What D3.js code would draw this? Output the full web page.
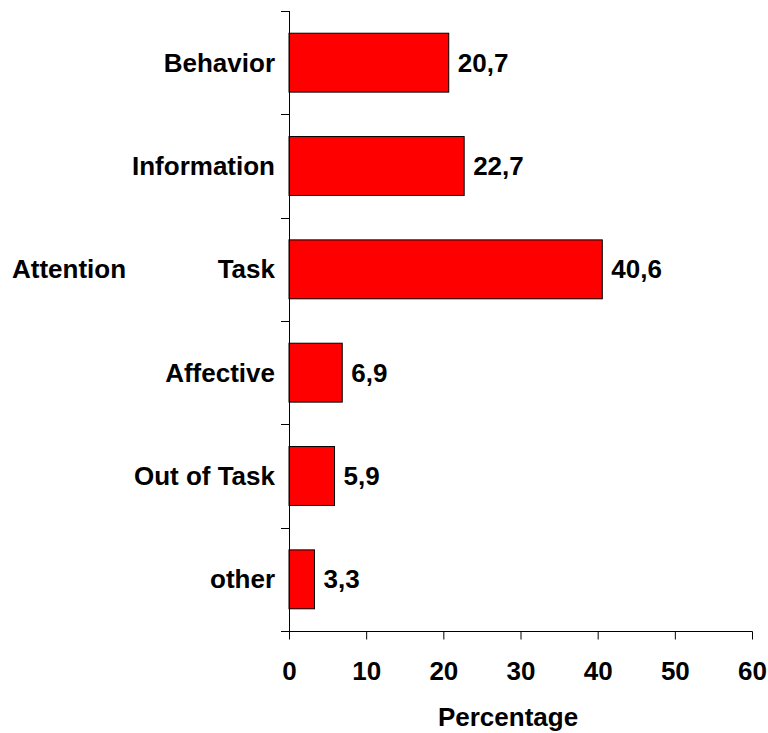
<!DOCTYPE html>
<html><head><meta charset="utf-8">
<script src="https://cdn.jsdelivr.net/npm/d3@7"></script>
<style>body{margin:0;background:#fff}svg{display:block}text{font-family:"Liberation Sans",Arial,sans-serif;font-weight:bold;fill:#000}</style>
</head><body>
<svg id="c" width="768" height="733"></svg>
<script>
const categories = ["Behavior","Information","Task","Affective","Out of Task","other"];
const values = [20.7, 22.7, 40.6, 6.9, 5.9, 3.3];
const valueLabels = ["20,7","22,7","40,6","6,9","5,9","3,3"];
const xTicks = [0,10,20,30,40,50,60];
const groupLabel = "Attention";
const xTitle = "Percentage";

(function(){
const svg = d3.select("#c");
const pl = 289, pr = 752, pt = 11, pb = 631;
const fs = 26;
const x = d3.scaleLinear().domain([0,60]).range([pl,pr]);
const y = d3.scaleBand().domain(categories).range([pt,pb]).paddingInner(0.43).paddingOuter(0.215);
const bandStep = (pb-pt)/categories.length;

// bars
svg.selectAll("rect.bar").data(values).join("rect")
  .attr("x", x(0)).attr("y",(d,i)=>y(categories[i]))
  .attr("width", d=>x(d)-x(0)).attr("height", y.bandwidth())
  .attr("fill","#ff0000").attr("stroke","#000").attr("stroke-width",1);

// y axis line and ticks at band boundaries
svg.append("line").attr("x1",pl+0.5).attr("x2",pl+0.5).attr("y1",pt).attr("y2",pb).attr("stroke","#000");
d3.range(categories.length+1).forEach(i=>{
  const yy = Math.round(pt + i*bandStep)+0.5;
  svg.append("line").attr("x1",pl-8).attr("x2",pl).attr("y1",yy).attr("y2",yy).attr("stroke","#000");
});

// x axis
const xAxis = d3.axisBottom(x).tickValues(xTicks).tickSize(8).tickPadding(22).tickFormat(d3.format("d"));
const gx = svg.append("g").attr("transform",`translate(0,${pb+0.5})`).call(xAxis);
gx.select(".domain").remove();
gx.append("line").attr("x1",pl-8).attr("x2",pr+0.5).attr("y1",0).attr("y2",0).attr("stroke","#000");
gx.selectAll(".tick line").attr("stroke","#000");
gx.selectAll(".tick text").attr("font-size",fs).attr("font-family","Liberation Sans, Arial, sans-serif").attr("font-weight","bold").attr("fill","#000");

// category labels
svg.selectAll("text.cat").data(categories).join("text")
  .attr("x", pl-14).attr("y", d=>y(d)+y.bandwidth()/2).attr("dy","0.35em")
  .attr("text-anchor","end").attr("font-size",fs).text(d=>d);

// value labels
svg.selectAll("text.val").data(values).join("text")
  .attr("x", d=>x(d)+9).attr("y",(d,i)=>y(categories[i])+y.bandwidth()/2).attr("dy","0.35em")
  .attr("font-size",fs).text((d,i)=>valueLabels[i]);

// group label
svg.append("text").attr("x",12).attr("y",y("Task")+y.bandwidth()/2).attr("dy","0.35em")
  .attr("font-size",fs).text(groupLabel);

// x title
svg.append("text").attr("x",508).attr("y",726).attr("text-anchor","middle").attr("font-size",fs).text(xTitle);
})();
</script>
</body></html>
